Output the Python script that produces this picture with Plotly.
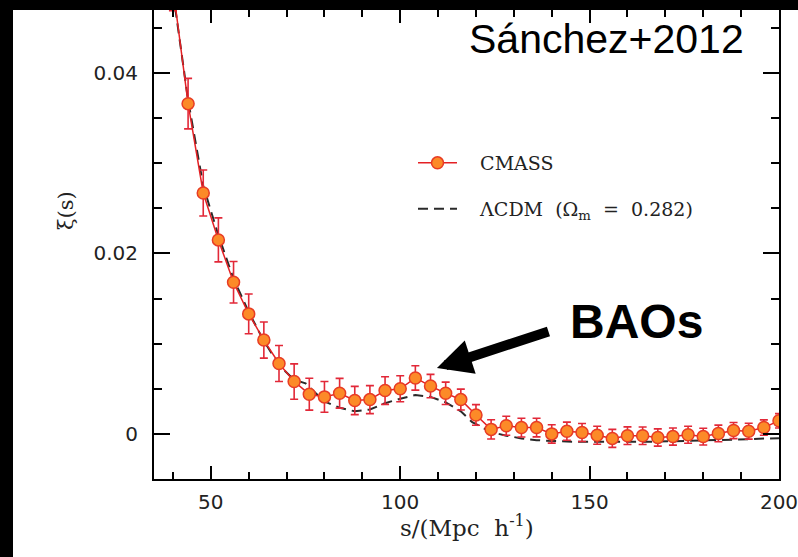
import plotly.graph_objects as go

# ---------------- data ----------------
s_cmass = [40, 44, 48, 52, 56, 60, 64, 68, 72, 76, 80, 84, 88, 92, 96, 100,
           104, 108, 112, 116, 120, 124, 128, 132, 136, 140, 144, 148, 152,
           156, 160, 164, 168, 172, 176, 180, 184, 188, 192, 196, 200]
xi_cmass = [0.0495, 0.0366, 0.0267, 0.0215, 0.0168, 0.0133, 0.0104, 0.0078,
            0.0058, 0.0044, 0.0041, 0.0045, 0.0037, 0.0038, 0.0048, 0.0050,
            0.0062, 0.0053, 0.0045, 0.0038, 0.0021, 0.0005, 0.0009, 0.0007,
            0.0007, 0.0000, 0.0003, 0.00015, -0.00015, -0.0005, -0.0002,
            -0.0002, -0.0004, -0.0003, -0.0001, -0.0003, 0.00005, 0.00037,
            0.0003, 0.0007, 0.00145]
err_cmass = [0.0026, 0.0028, 0.00255, 0.00244, 0.0023, 0.0022, 0.0020, 0.0020,
             0.00196, 0.00177, 0.0017, 0.00165, 0.00157, 0.00155, 0.00153,
             0.00144, 0.00135, 0.0013, 0.00124, 0.00116, 0.00114, 0.00107,
             0.00105, 0.00104, 0.00103, 0.00102, 0.001, 0.001, 0.001, 0.001,
             0.00098, 0.00097, 0.00096, 0.00095, 0.00094, 0.00093, 0.00092,
             0.0009, 0.00088, 0.00085, 0.0008]

s_model = [40, 44, 48, 52, 56, 60, 64, 68, 72, 75, 80, 84, 88, 92, 96, 100,
           104, 108, 112, 116, 119, 124, 128, 132, 136, 140, 144, 148, 152,
           156, 160, 164, 168, 172, 176, 180, 184, 188, 192, 196, 200]
xi_model = [0.0490, 0.0370, 0.0275, 0.0220, 0.0172, 0.0135, 0.0103, 0.0076,
            0.0060, 0.0056, 0.0036, 0.0029, 0.0025, 0.0027, 0.0034, 0.0039,
            0.0043, 0.0041, 0.0035, 0.0025, 0.0013, 0.0002, -0.0002, -0.0005,
            -0.0007, -0.0008, -0.00085, -0.00088, -0.0009, -0.0009, -0.0009,
            -0.00088, -0.00085, -0.00082, -0.0008, -0.00075, -0.0007,
            -0.00065, -0.0006, -0.00052, -0.00048]

x_tickvals = [50, 100, 150, 200]
y_tickvals = [0, 0.02, 0.04]
y_ticktext = ["0", "0.02", "0.04"]

x_range = [35, 200]
y_range = [-0.005, 0.04698]

arrow_head = (109.7, 0.0073)

# ---------------- figure ----------------
W, H = 798, 557
ML, MR, MT, MB = 154, 19, 10, 78
PW, PH = W - ML - MR, H - MT - MB


def px2paper_x(px):
    return (px - ML) / PW


def px2paper_y(py):
    return (H - MB - py) / PH


serif = "DejaVu Serif"
sans = "DejaVu Sans"

fig = go.Figure()

fig.add_trace(go.Scatter(
    x=s_model, y=xi_model, mode="lines",
    name="\u00a0\u00a0\u00a0ΛCDM\u00a0\u00a0(Ω<sub>m</sub>\u00a0\u00a0=\u00a0\u00a00.282)",
    line=dict(color="#2a2a2a", width=2, dash="10px,6px"),
    legend="legend2",
))

fig.add_trace(go.Scatter(
    x=s_cmass, y=xi_cmass, mode="lines+markers",
    name="\u00a0\u00a0\u00a0CMASS",
    line=dict(color="rgb(228,32,36)", width=1.5),
    marker=dict(size=12, color="rgb(252,138,40)",
                line=dict(color="rgb(232,60,36)", width=1.5)),
    error_y=dict(type="data", array=err_cmass, visible=True,
                 color="rgb(226,40,56)", thickness=1.6, width=4),
    legend="legend",
))

fig.update_layout(
    width=W, height=H,
    margin=dict(l=ML, r=MR, t=MT, b=MB, pad=0, autoexpand=False),
    paper_bgcolor="white", plot_bgcolor="white",
    showlegend=True,
    legend=dict(
        x=px2paper_x(413), y=px2paper_y(163), xanchor="left", yanchor="middle",
        bgcolor="rgba(0,0,0,0)", borderwidth=0, itemwidth=39,
        font=dict(family=serif, size=19, color="#222"),
    ),
    legend2=dict(
        x=px2paper_x(413), y=px2paper_y(209), xanchor="left", yanchor="middle",
        bgcolor="rgba(0,0,0,0)", borderwidth=0, itemwidth=39,
        font=dict(family=serif, size=19, color="#222"),
    ),
    xaxis=dict(
        range=x_range, showgrid=False, zeroline=False, automargin=False,
        showline=True, linecolor="black", linewidth=2, mirror="ticks",
        ticks="inside", ticklen=13, tickwidth=1.5, tickcolor="black",
        tickvals=x_tickvals, ticklabelstandoff=4, ticklabeloverflow="allow",
        tickfont=dict(family=sans, size=20, color="#222"),
        minor=dict(dtick=10, tick0=0, ticks="inside", ticklen=7,
                   tickwidth=1.5, tickcolor="black", showgrid=False),
    ),
    yaxis=dict(
        range=y_range, showgrid=False, zeroline=False, automargin=False,
        showline=True, linecolor="black", linewidth=2, mirror="ticks",
        ticks="inside", ticklen=16, tickwidth=1.5, tickcolor="black",
        tickvals=y_tickvals, ticktext=y_ticktext, ticklabelstandoff=10,
        tickfont=dict(family=sans, size=20, color="#222"),
        minor=dict(dtick=0.005, tick0=0, ticks="inside", ticklen=8,
                   tickwidth=1.5, tickcolor="black", showgrid=False),
    ),
)

# axis titles
fig.add_annotation(
    text="s/(Mpc\u00a0\u00a0h<sup>-1</sup>)", xref="paper", yref="paper",
    x=0.5, y=px2paper_y(526), xanchor="center", yanchor="middle",
    showarrow=False, font=dict(family=serif, size=23, color="#222"),
)
fig.add_annotation(
    text="ξ(s)", xref="paper", yref="paper", textangle=-90,
    x=px2paper_x(66), y=px2paper_y(211), xanchor="center", yanchor="middle",
    showarrow=False, font=dict(family=serif, size=21, color="#222"),
)

# labels
fig.add_annotation(
    text="Sánchez+2012", xref="paper", yref="paper",
    x=px2paper_x(467), y=px2paper_y(39), xanchor="left", yanchor="middle",
    showarrow=False, font=dict(family="Liberation Sans", size=41, color="black"),
)
fig.add_annotation(
    text="<b>BAOs</b>", xref="paper", yref="paper",
    x=px2paper_x(568), y=px2paper_y(321), xanchor="left", yanchor="middle",
    showarrow=False, font=dict(family="Liberation Sans", size=48, color="black"),
)
fig.add_annotation(
    text="", x=arrow_head[0], y=arrow_head[1], xref="x", yref="y",
    ax=113, ay=-37, axref="pixel", ayref="pixel",
    showarrow=True, arrowhead=2, arrowsize=0.7, arrowwidth=10,
    arrowcolor="black",
)

# black borders of the cropped picture (left and top)
fig.add_shape(type="rect", xref="paper", yref="paper", layer="above",
              x0=px2paper_x(0), x1=px2paper_x(13),
              y0=px2paper_y(H), y1=px2paper_y(0),
              fillcolor="black", line=dict(width=0))
fig.add_shape(type="rect", xref="paper", yref="paper", layer="above",
              x0=px2paper_x(0), x1=px2paper_x(W),
              y0=px2paper_y(10), y1=px2paper_y(0),
              fillcolor="black", line=dict(width=0))

fig.write_html("out.html")
